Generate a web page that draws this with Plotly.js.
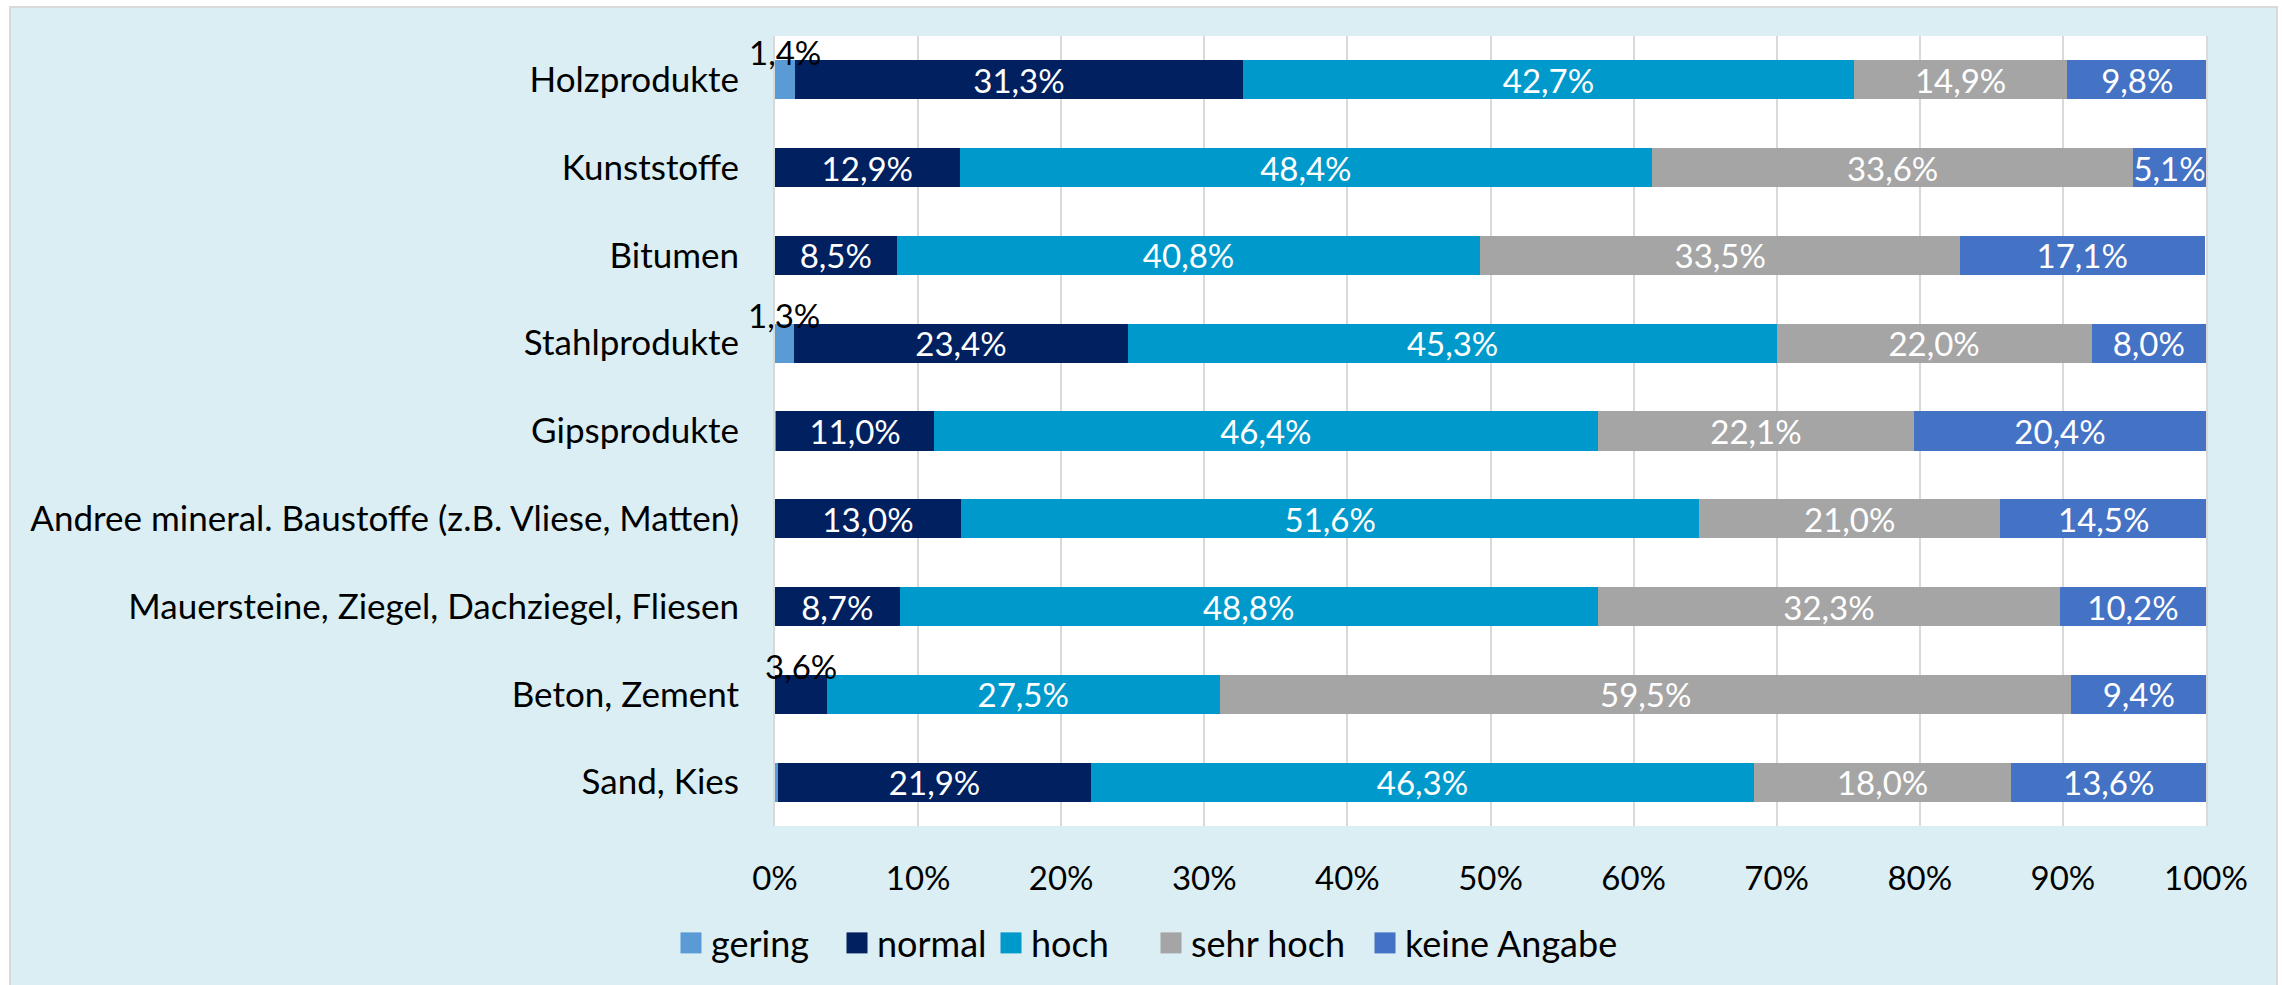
<!DOCTYPE html>
<html>
<head>
<meta charset="utf-8">
<script src="https://cdn.plot.ly/plotly-3.0.1.min.js"></script>
<style>
  html, body { margin: 0; padding: 0; background: #ffffff; }
  #chart { position: absolute; left: 9px; top: 6px; border: 2px solid #D9D9D9; }
</style>
</head>
<body>
<div id="chart"></div>
<script>
const categories = [
  "Holzprodukte",
  "Kunststoffe",
  "Bitumen",
  "Stahlprodukte",
  "Gipsprodukte",
  "Andree mineral. Baustoffe (z.B. Vliese, Matten)",
  "Mauersteine, Ziegel, Dachziegel, Fliesen",
  "Beton, Zement",
  "Sand, Kies"
];
const gering      = [1.4, 0,    0,    1.3,  0.1,  0,    0,    0,    0.2];
const normal      = [31.3, 12.9, 8.5, 23.4, 11.0, 13.0, 8.7,  3.6,  21.9];
const hoch        = [42.7, 48.4, 40.8, 45.3, 46.4, 51.6, 48.8, 27.5, 46.3];
const sehrHoch    = [14.9, 33.6, 33.5, 22.0, 22.1, 21.0, 32.3, 59.5, 18.0];
const keineAngabe = [9.8,  5.1,  17.1, 8.0,  20.4, 14.5, 10.2, 9.4,  13.6];
const tickValues  = [0, 10, 20, 30, 40, 50, 60, 70, 80, 90, 100];
const tickLabels  = ["0%", "10%", "20%", "30%", "40%", "50%", "60%", "70%", "80%", "90%", "100%"];

const seriesNames  = ["gering", "normal", "hoch", "sehr hoch", "keine Angabe"];
const seriesValues = [gering, normal, hoch, sehrHoch, keineAngabe];
const seriesColors = ["#5B9BD5", "#002060", "#0099CB", "#A5A5A5", "#4472C4"];

const FONT = "Lato, 'Open Sans', sans-serif";
const fmt = v => v.toFixed(1).replace(".", ",") + "%";
const legendIds = ["legend", "legend2", "legend3", "legend4", "legend5"];

const traces = seriesValues.map((vals, i) => ({
  type: "bar",
  orientation: "h",
  name: seriesNames[i],
  legend: legendIds[i],
  y: categories,
  x: vals,
  marker: { color: seriesColors[i], line: { width: 0 } },
  text: vals.map(v => (v >= 5 ? fmt(v) : "")),
  textposition: "inside",
  insidetextanchor: "middle",
  constraintext: "none",
  textfont: { family: FONT, size: 33, color: "#ffffff" },
  hoverinfo: "skip"
}));

// small values: labels drawn above the bar
const annotations = [];
categories.forEach((cat, ci) => {
  let cum = 0;
  seriesValues.forEach(vals => {
    const v = vals[ci];
    if (v >= 1 && v < 5) {
      annotations.push({
        x: cum + v / 2, y: cat, xref: "x", yref: "y",
        text: fmt(v), showarrow: false, yshift: 28,
        font: { family: FONT, size: 33, color: "#000000" }
      });
    }
    cum += v;
  });
});

const W = 2265, H = 977;
const layout = {
  width: W,
  height: H,
  paper_bgcolor: "#DAEEF3",
  plot_bgcolor: "#ffffff",
  barmode: "stack",
  bargap: 0.555,
  margin: { l: 764, r: 70, t: 28, b: 159, pad: 0 },
  font: { family: FONT, size: 33, color: "#000000" },
  xaxis: {
    range: [0, 100],
    tickmode: "array",
    tickvals: tickValues,
    ticktext: tickLabels,
    showgrid: true,
    gridcolor: "#D9D9D9",
    gridwidth: 2,
    zeroline: false,
    showline: false,
    ticks: "",
    ticklabelstandoff: 30,
    tickfont: { family: FONT, size: 33, color: "#000000" },
    fixedrange: true
  },
  yaxis: {
    autorange: "reversed",
    type: "category",
    showgrid: false,
    zeroline: false,
    showline: true,
    mirror: true,
    linecolor: "#D9D9D9",
    linewidth: 2,
    ticks: "",
    ticklabelstandoff: 27,
    tickfont: { family: FONT, size: 35, color: "#000000" },
    fixedrange: true
  },
  showlegend: true,
  annotations: annotations
};

// one legend per series, spaced like the reference
const legendSymbolCentersPx = [691, 857, 1011, 1171, 1385];
legendIds.forEach((id, i) => {
  layout[id] = {
    orientation: "h",
    xref: "container", yref: "container",
    x: (legendSymbolCentersPx[i] - 11 - 20) / W, xanchor: "left",
    y: 0.043, yanchor: "middle",
    font: { family: FONT, size: 36, color: "#000000" },
    bgcolor: "rgba(0,0,0,0)",
    borderwidth: 0
  };
});

Plotly.newPlot("chart", traces, layout, { staticPlot: true, displayModeBar: false }).then(gd => {
  gd.querySelectorAll(".legendpoints path").forEach(p => {
    p.setAttribute("d", "M10.5,10.5H-10.5V-10.5H10.5Z");
  });
});
</script>
</body>
</html>
